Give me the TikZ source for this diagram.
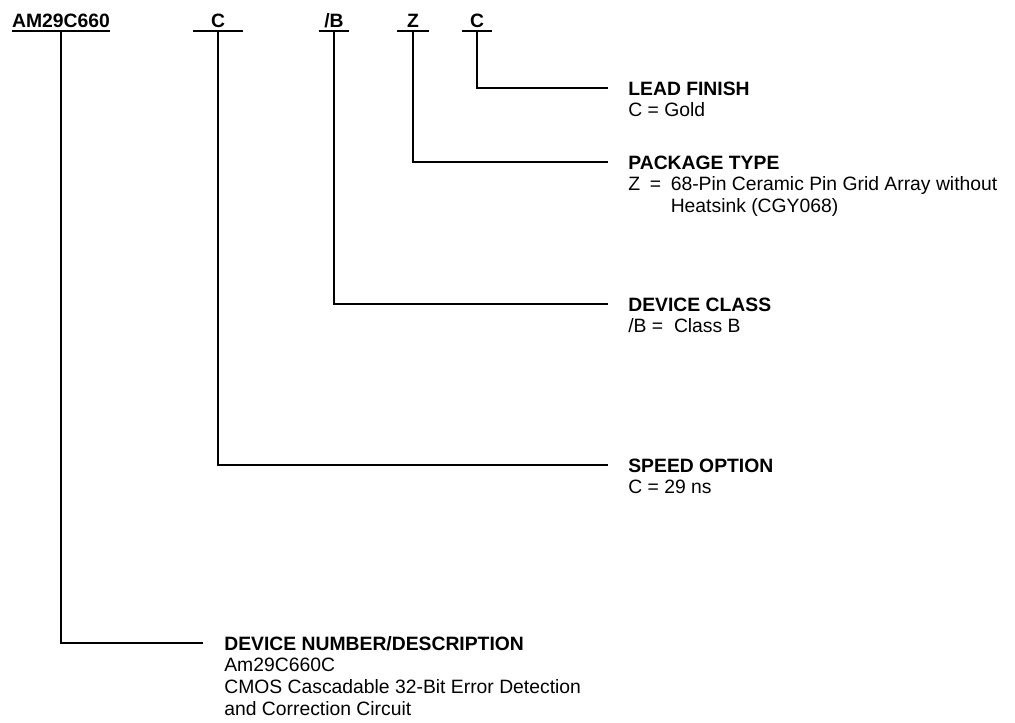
\documentclass[tikz,border=0pt]{standalone}
\usepackage{fontspec}
\setmainfont{Liberation Sans}
\usetikzlibrary{positioning}
\newcommand{\lblfont}{\fontsize{11}{12.5}\selectfont}

\begin{document}
\begin{tikzpicture}[x=0.02cm, y=-0.02cm,
    lead/.style={line width=1.2pt},
    code/.style={font=\lblfont\bfseries, inner xsep=0pt, inner ysep=1.8pt,
      text depth=0pt, anchor=south},
    head/.style={font=\lblfont\bfseries, inner sep=0pt, text height=8pt,
      text depth=0pt, anchor=west},
    body/.style={font=\lblfont, inner sep=0pt, align=left}]
  \useasboundingbox (0,0) rectangle (1015,723);
  % ordering code fields
  \node[code] (pn) at (61,31) {AM29C660};
  \node[code, minimum width=1cm] (spd) at (218,31) {C};
  \node[code, minimum width=0.6cm] (cls) at (334,31) {/B};
  \node[code, minimum width=0.62cm] (pkg) at (413,31) {Z};
  \node[code, minimum width=0.6cm] (fin) at (477,31) {C};
  \foreach \f in {pn,spd,cls,pkg,fin}
    \draw[lead] (\f.south west) -- (\f.south east);

  % field descriptions
  \node[head] (hfin) at (628,88) {LEAD FINISH};
  \node[body, below=4pt of hfin.south west, anchor=north west] (bfin)
    {C = Gold};
  \node[head] (hpkg) at (628,162) {PACKAGE TYPE};
  \node[body, below=4pt of hpkg.south west, anchor=north west] (bpkg)
    {Z\enspace=\enspace68-Pin Ceramic Pin Grid Array without\\
     \hphantom{Z\enspace=\enspace}Heatsink (CGY068)};
  \node[head] (hcls) at (628,304) {DEVICE CLASS};
  \node[body, below=4pt of hcls.south west, anchor=north west] (bcls)
    {/B = \ Class B};
  \node[head] (hspd) at (628,465) {SPEED OPTION};
  \node[body, below=4pt of hspd.south west, anchor=north west] (bspd)
    {C = 29 ns};
  \node[head] (hpn) at (224,643) {DEVICE NUMBER/DESCRIPTION};
  \node[body, below=4pt of hpn.south west, anchor=north west] (bpn)
    {Am29C660C\\
     CMOS Cascadable 32-Bit Error Detection\\
     and Correction Circuit};

  % leaders
  \draw[lead] (fin.south) |- ([xshift=-0.4cm]hfin.west);
  \draw[lead] (pkg.south) |- ([xshift=-0.4cm]hpkg.west);
  \draw[lead] (cls.south) |- ([xshift=-0.4cm]hcls.west);
  \draw[lead] (spd.south) |- ([xshift=-0.4cm]hspd.west);
  \draw[lead] (pn.south) |- ([xshift=-0.42cm]hpn.west);
\end{tikzpicture}
\end{document}
